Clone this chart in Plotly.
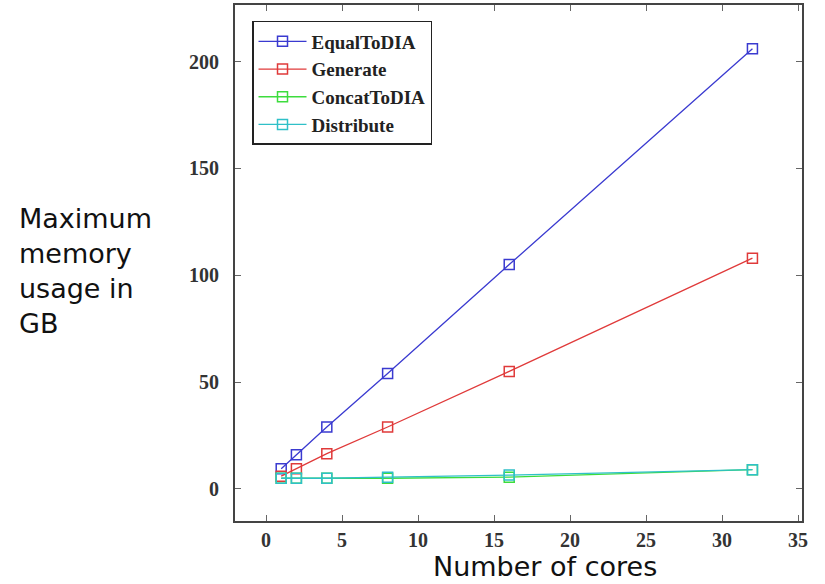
import plotly.graph_objects as go

cores = [1, 2, 4, 8, 16, 32]
equal_to_dia = [9.5, 16, 29, 54, 105, 206]
generate = [6, 9.5, 16.5, 29, 55, 108]
concat_to_dia = [5, 5, 5, 5, 5.5, 9]
distribute = [5, 5, 5, 5.5, 6.5, 9]

series = [
    ("EqualToDIA", equal_to_dia, "#3a3ad0"),
    ("Generate", generate, "#e03a3a"),
    ("ConcatToDIA", concat_to_dia, "#3ddc3d"),
    ("Distribute", distribute, "#2fc0c8"),
]

fig = go.Figure()
for name, vals, col in series:
    fig.add_trace(go.Scatter(
        x=cores, y=vals, name=name, mode="lines+markers",
        line=dict(color=col, width=1.3),
        marker=dict(symbol="square-open", size=10, color=col, line=dict(width=1.5, color=col)),
    ))

axis_common = dict(
    showgrid=False, zeroline=False, showline=True, linecolor="#444", linewidth=2,
    mirror="ticks", ticks="inside", ticklen=6, tickcolor="#666",
    tickfont=dict(family="Liberation Serif, DejaVu Serif, serif", size=20, color="#333", weight="bold"),
)
fig.update_xaxes(range=[-2.04, 35.26], tickvals=[0, 5, 10, 15, 20, 25, 30, 35],
                 ticklabelstandoff=0, **axis_common)
fig.update_yaxes(range=[-15, 226.5], tickvals=[0, 50, 100, 150, 200],
                 ticklabelstandoff=10, **axis_common)

fig.update_layout(
    width=825, height=584,
    margin=dict(l=235, r=23, t=3, b=63),
    plot_bgcolor="white", paper_bgcolor="white",
    legend=dict(
        x=0.03, y=0.969, xanchor="left", yanchor="top",
        bordercolor="#222", borderwidth=1.5, bgcolor="white",
        font=dict(family="Liberation Serif, DejaVu Serif, serif", size=19, color="#222", weight="bold"),
        tracegroupgap=0, itemwidth=48, entrywidth=160,
    ),
    annotations=[
        dict(text="Maximum<br>memory<br>usage in<br>GB", xref="paper", yref="paper",
             x=-0.384, y=0.485, xanchor="left", yanchor="middle", showarrow=False, align="left",
             font=dict(family="DejaVu Sans, Verdana, sans-serif", size=27, color="#111")),
        dict(text="Number of cores", xref="paper", yref="paper",
             x=0.547, y=-0.089, xanchor="center", yanchor="middle", showarrow=False,
             font=dict(family="DejaVu Sans, Verdana, sans-serif", size=27, color="#111")),
    ],
)

fig.write_html("out.html")
